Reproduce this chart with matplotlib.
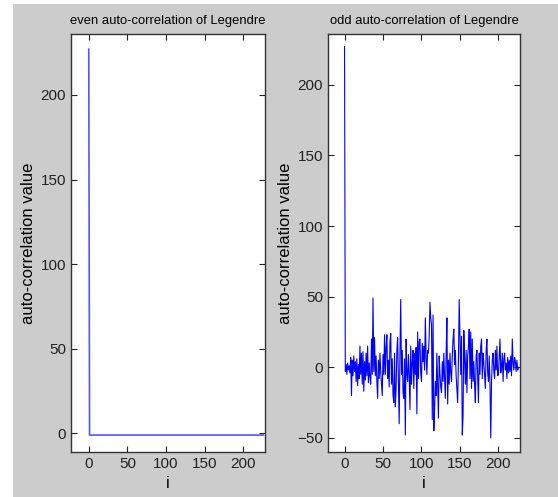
import numpy as np
import matplotlib.pyplot as plt
from matplotlib.patches import Rectangle

# lag index
N = 227
lags = np.arange(N)

# even (periodic) auto-correlation: peak at lag 0, -1 everywhere else
even_acf = [227] + [-1] * (N - 1)

# odd auto-correlation, values
odd_acf = [
    227, -3, 2, -5, 3, -2, 1, -4, 7, -20,
    5, -6, 8, -3, 4, -10, 6, -13, 2, -8,
    15, -5, 10, -12, 11, -17, 4, -9, 10, -6,
    15, -11, 3, -7, -12, 20, -5, 49, -3, 21,
    -6, 8, -10, -22, 5, -8, 10, -3, -12, -20,
    9, -5, 23, -5, 14, 23, -8, 5, -14, 18,
    24, -12, 6, -20, -25, 10, -28, -15, 12, 21,
    -8, -40, 9, 48, -5, 12, -18, -22, 6, -48,
    20, -5, -10, 9, -6, -30, 15, -12, 3, 12,
    -15, 10, -5, 14, -33, 25, -8, 18, 20, -4,
    -10, 17, 4, 15, -2, 35, 8, -5, 12, 10,
    22, 46, 35, 30, -37, 37, -45, -30, -10, -20,
    10, -12, -36, 8, -5, -14, -18, 4, -10, 10,
    -8, -22, 9, 35, -26, 5, -12, 10, -4, -10,
    8, 20, 27, 2, 12, -6, -15, -25, 5, 48,
    20, -5, 22, -48, -35, 26, 5, -12, 12, -18,
    8, 15, 27, -8, 25, -15, 20, -10, 4, -12,
    -25, 8, 12, -6, -25, 10, -5, 15, 20, -8,
    10, 3, -6, -15, 12, 20, -4, -10, 8, -12,
    -50, -10, 5, 10, -3, -8, 12, -2, 15, -6,
    -5, 8, 20, -4, 0, 10, -10, 6, 10, -2,
    3, -8, 7, -4, 5, -3, 8, -6, 20, 3,
    -2, 7, 4, -3, 5, -2, 0,
]

xticks = [0, 50, 100, 150, 200]
even_yticks = [0, 50, 100, 150, 200]
odd_yticks = [-50, 0, 50, 100, 150, 200]

plt.rcParams['font.family'] = ['Liberation Sans', 'DejaVu Sans']
plt.rcParams['font.size'] = 11

W, H = 558, 497
fig = plt.figure(figsize=(W / 100, H / 100), dpi=100, facecolor='white')
# grey MATLAB figure background (white strip at left and top)
fig.patches.append(Rectangle((13 / W, 0), 1 - 13 / W, 1 - 4 / H,
                             transform=fig.transFigure, facecolor='#cccccc',
                             edgecolor='none', zorder=-10))

ax1 = fig.add_axes([71 / W, 45 / H, 194 / W, 418 / H])
ax2 = fig.add_axes([328 / W, 45 / H, 192 / W, 418 / H])

ax1.plot(lags, even_acf, color='#5555ff', lw=1.2)
ax1.set_xlim(-23, 228)
ax1.set_ylim(-11, 236)
ax1.set_yticks(even_yticks)
ax1.set_title('even auto-correlation of Legendre', fontsize=9.4, pad=7)

ax2.plot(lags, odd_acf, color='blue', lw=0.8)
ax2.set_xlim(-21.5, 228)
ax2.set_ylim(-60, 236)
ax2.set_yticks(odd_yticks)
ax2.set_title('odd auto-correlation of Legendre', fontsize=9.4, pad=7)

for ax in (ax1, ax2):
    ax.set_xticks(xticks)
    ax.set_xlabel('i', fontsize=11.5, labelpad=4)
    ax.set_ylabel('auto-correlation value', fontsize=12, labelpad=3)
    ax.tick_params(direction='in', top=True, right=True, length=4,
                   width=0.8, colors='#222222', labelcolor='#222222',
                   labelsize=11)
    for s in ax.spines.values():
        s.set_color('#333333')
        s.set_linewidth(1.0)

fig.savefig('out.png', dpi=100, facecolor=fig.get_facecolor())
